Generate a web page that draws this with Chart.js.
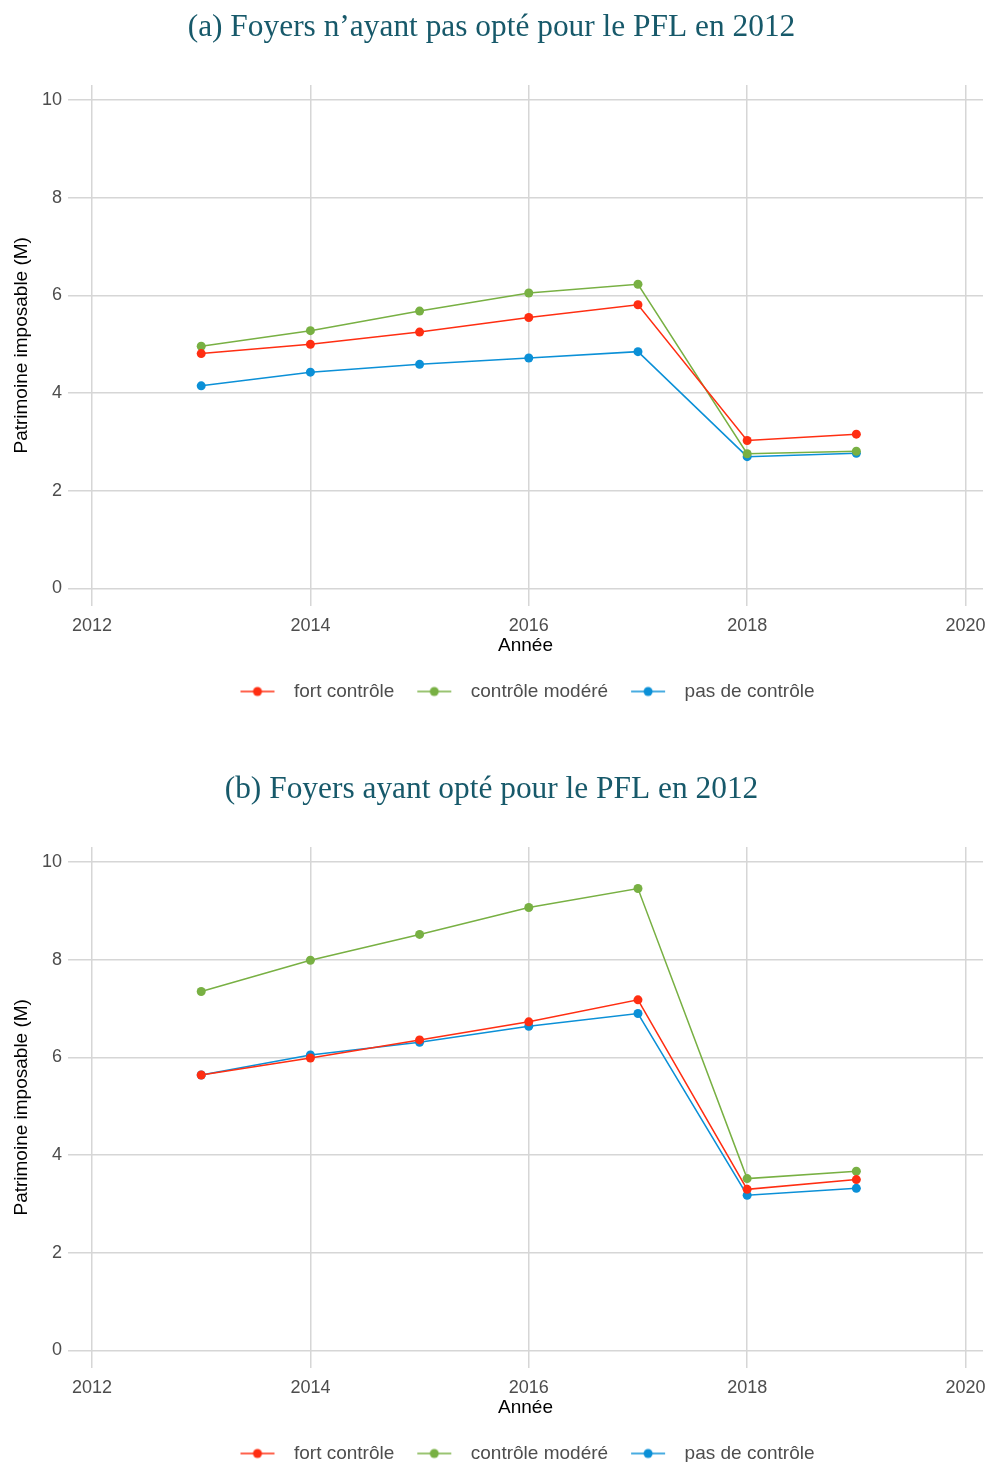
<!DOCTYPE html>
<html lang="fr">
<head>
<meta charset="utf-8">
<title>Patrimoine imposable</title>
<script src="https://cdn.jsdelivr.net/npm/chart.js@4.4.1/dist/chart.umd.min.js"></script>
<style>
  html, body { margin: 0; padding: 0; background: #ffffff; }
  body { width: 990px; height: 1462px; position: relative; overflow: hidden; }
  .panel { position: absolute; left: 0; width: 990px; height: 731px; }
  #panelA { top: 0; }
  #panelB { top: 762px; }
</style>
</head>
<body>
<div class="panel" id="panelA"><canvas id="chartA"></canvas></div>
<div class="panel" id="panelB"><canvas id="chartB"></canvas></div>
<script>
// Années d'observation
const years = [2013, 2014, 2015, 2016, 2017, 2018, 2019];
const xTicks = [2012, 2014, 2016, 2018, 2020];
const yTicks = [0, 2, 4, 6, 8, 10];
const seriesNames = ['fort contrôle', 'contrôle modéré', 'pas de contrôle'];

// (a) Foyers n'ayant pas opté pour le PFL en 2012 — patrimoine imposable moyen (M)
const aFort   = [4.81, 5.00, 5.25, 5.55, 5.81, 3.03, 3.16];
const aModere = [4.96, 5.28, 5.68, 6.05, 6.23, 2.76, 2.81];
const aPas    = [4.15, 4.43, 4.59, 4.72, 4.85, 2.70, 2.77];

// (b) Foyers ayant opté pour le PFL en 2012
const bFort   = [5.64, 5.99, 6.36, 6.73, 7.18, 3.30, 3.50];
const bModere = [7.35, 7.99, 8.52, 9.07, 9.46, 3.52, 3.67];
const bPas    = [5.64, 6.05, 6.31, 6.64, 6.90, 3.18, 3.32];

const titles = [
  '(a) Foyers n\u2019ayant pas opté pour le PFL en 2012',
  '(b) Foyers ayant opté pour le PFL en 2012'
];

const COLORS = ['#ff2e12', '#78b043', '#0b90d7'];
const SANS = "'Liberation Sans', Arial, sans-serif";
const SERIF = "'Liberation Serif', 'DejaVu Serif', serif";

// Legend glyph: short line with a dot in the middle, left margin spaces the items
const GLYPH_LEFT = 4, GLYPH_LINE = 34, GLYPH_W = 48;
function legendGlyph(color) {
  const c = document.createElement('canvas');
  c.width = GLYPH_W; c.height = 12;
  const g = c.getContext('2d');
  g.strokeStyle = color;
  g.lineWidth = 1.5;
  g.beginPath(); g.moveTo(GLYPH_LEFT, 6); g.lineTo(GLYPH_LEFT + GLYPH_LINE, 6); g.stroke();
  g.fillStyle = color;
  g.beginPath(); g.arc(GLYPH_LEFT + GLYPH_LINE / 2, 6, 4.5, 0, Math.PI * 2); g.fill();
  return c;
}
const glyphs = COLORS.map(legendGlyph);

function makeChart(canvasId, title, values) {
  const datasets = values.map((vals, i) => ({
    label: seriesNames[i],
    data: years.map((y, k) => ({ x: y, y: vals[k] })),
    borderColor: COLORS[i],
    backgroundColor: COLORS[i],
    borderWidth: 1.5,
    pointRadius: 4.5,
    pointBorderWidth: 0,
    pointHoverRadius: 4.5,
    tension: 0
  }));

  return new Chart(document.getElementById(canvasId), {
    type: 'line',
    data: { datasets },
    options: {
      responsive: true,
      maintainAspectRatio: false,
      animation: false,
      events: [],
      layout: { padding: { left: 0, right: 7, top: 0, bottom: 20 } },
      plugins: {
        title: {
          display: true,
          text: title,
          color: '#17596a',
          font: { family: SERIF, size: 31.4, weight: 'normal' },
          padding: { top: 9.3, bottom: 38 }
        },
        legend: {
          position: 'bottom',
          fullSize: false,
          labels: {
            color: '#4d4d4d',
            font: { family: SANS, size: 19 },
            usePointStyle: true,
            pointStyleWidth: GLYPH_W,
            padding: 19,
            generateLabels: (chart) => chart.data.datasets.map((ds, i) => ({
              text: ds.label,
              pointStyle: glyphs[i],
              fillStyle: ds.borderColor,
              strokeStyle: ds.borderColor,
              lineWidth: 0,
              fontColor: '#4d4d4d',
              hidden: false,
              datasetIndex: i
            }))
          }
        },
        tooltip: { enabled: false }
      },
      scales: {
        x: {
          type: 'linear',
          min: 2011.78,
          max: 2020.16,
          afterBuildTicks: (scale) => { scale.ticks = xTicks.map(v => ({ value: v })); },
          // tick labels may overhang the plot edges
          afterFit: (scale) => { scale.paddingLeft = 0; scale.paddingRight = 0; },
          grid: { color: '#d6d6d6', lineWidth: 1.5, drawTicks: false },
          border: { display: false },
          ticks: {
            color: '#4d4d4d',
            font: { family: SANS, size: 18 },
            padding: 10,
            maxRotation: 0,
            callback: (v) => String(v)
          },
          title: {
            display: true,
            text: 'Année',
            color: '#000000',
            font: { family: SANS, size: 19 },
            padding: { top: -13, bottom: 6 }
          }
        },
        y: {
          type: 'linear',
          min: -0.35,
          max: 10.31,
          afterBuildTicks: (scale) => { scale.ticks = yTicks.map(v => ({ value: v })); },
          afterFit: (scale) => { scale.width = 68; },
          grid: { color: '#d6d6d6', lineWidth: 1.5, drawTicks: false },
          border: { display: false },
          ticks: {
            color: '#4d4d4d',
            font: { family: SANS, size: 18 },
            padding: 6,
            callback: (v) => String(v)
          },
          title: {
            display: true,
            text: 'Patrimoine imposable (M)',
            color: '#000000',
            font: { family: SANS, size: 19 },
            padding: { top: 10, bottom: 0 }
          }
        }
      }
    }
  });
}

makeChart('chartA', titles[0], [aFort, aModere, aPas]);
makeChart('chartB', titles[1], [bFort, bModere, bPas]);
</script>
</body>
</html>
